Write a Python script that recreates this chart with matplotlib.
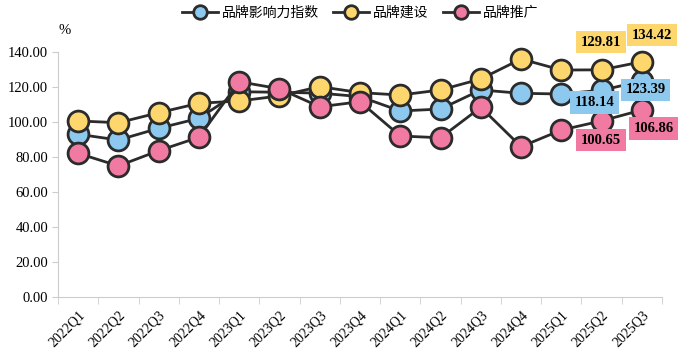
import numpy as np
import matplotlib.pyplot as plt

plt.rcParams['font.family'] = ['Liberation Serif', 'Noto Sans CJK SC', 'DejaVu Sans']

quarters = ['2022Q1', '2022Q2', '2022Q3', '2022Q4', '2023Q1', '2023Q2', '2023Q3', '2023Q4',
            '2024Q1', '2024Q2', '2024Q3', '2024Q4', '2025Q1', '2025Q2', '2025Q3']
influence = [93.0, 89.7, 96.4, 102.1, 117.3, 117.0, 116.5, 114.5,
             106.3, 107.4, 118.3, 116.4, 116.0, 118.14, 123.39]
building = [100.6, 99.6, 105.3, 110.7, 112.0, 114.9, 120.2, 116.8,
            115.4, 118.3, 124.6, 136.0, 129.7, 129.81, 134.42]
promotion = [82.1, 74.9, 83.6, 91.3, 123.0, 119.0, 108.7, 111.6,
             92.0, 91.0, 108.4, 85.9, 95.4, 100.65, 106.86]

names = ['品牌影响力指数', '品牌建设', '品牌推广']
colors = ['#8DC9EE', '#FED66E', '#F07AA2']

fig = plt.figure(figsize=(6.89, 3.64), dpi=100)
ax = fig.add_axes([58 / 689, 1 - 297 / 364, 604 / 689, 245 / 364])

x = np.arange(len(quarters))
for vals, name, c in zip([influence, building, promotion], names, colors):
    ax.plot(x, vals, color='#2b2b2b', lw=2, marker='o', ms=15,
            mfc=c, mec='#2b2b2b', mew=2, label=name, clip_on=False)

# data labels for the last two quarters
lab_kw = dict(fontsize=10.5, fontweight='bold', color='black', ha='center', va='center')
ax.text(12.98, 145.7, '129.81', bbox=dict(fc=colors[1], ec='none', pad=3.5), **lab_kw)
ax.text(14.24, 149.7, '134.42', bbox=dict(fc=colors[1], ec='none', pad=3.5), **lab_kw)
ax.text(12.83, 111.0, '118.14', bbox=dict(fc=colors[0], ec='none', pad=3.5), **lab_kw)
ax.text(14.09, 118.3, '123.39', bbox=dict(fc=colors[0], ec='none', pad=3.5), **lab_kw)
ax.text(12.98, 89.7, '100.65', bbox=dict(fc=colors[2], ec='none', pad=3.5), **lab_kw)
ax.text(14.29, 96.4, '106.86', bbox=dict(fc=colors[2], ec='none', pad=3.5), **lab_kw)

ax.set_xlim(-0.5, len(quarters) - 0.5)
ax.set_ylim(0, 140)
ax.set_yticks(np.arange(0, 141, 20))
ax.set_yticklabels([f'{v:.2f}' for v in np.arange(0, 141, 20)], fontsize=10.5)
ax.set_xticks(x)
ax.set_xticklabels(quarters, rotation=45, fontsize=10, ha='right', rotation_mode='anchor')
ax.set_xticks(np.arange(-0.5, len(quarters), 1), minor=True)
ax.tick_params(axis='x', which='major', length=0, pad=8)
ax.tick_params(axis='x', which='minor', length=5, color='#cccccc')
ax.tick_params(axis='y', length=4, color='#cccccc', pad=3)

for s in ['top', 'right']:
    ax.spines[s].set_visible(False)
ax.spines['left'].set_color('#cccccc')
ax.spines['bottom'].set_color('#cccccc')

fig.text(65 / 689, 1 - 31 / 364, '%', fontsize=10.5, ha='center', va='center')

ax.legend(loc='lower center', bbox_to_anchor=(0.5, 1.08), ncol=3, frameon=False,
          prop={'family': ['Noto Sans CJK SC'], 'size': 10}, markerscale=0.65,
          handlelength=2.6, columnspacing=1.0, handletextpad=0.3)

fig.savefig('out.png', dpi=100)
